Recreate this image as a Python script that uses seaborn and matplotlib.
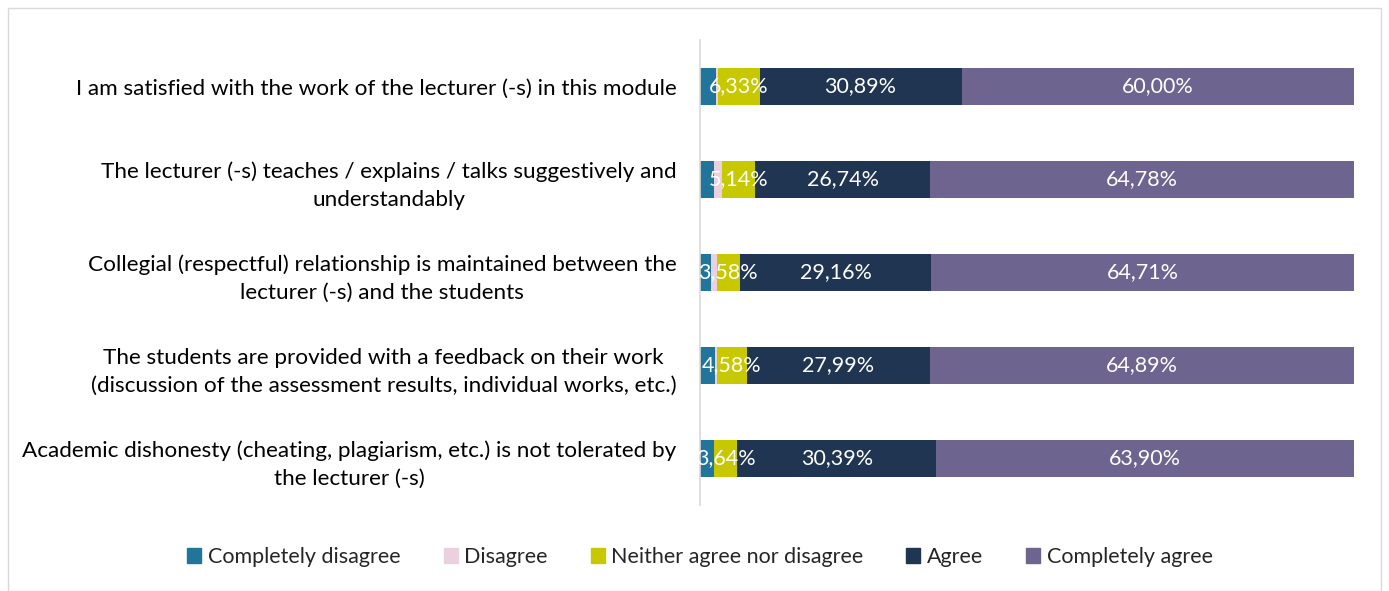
import matplotlib
matplotlib.use("Agg")
import matplotlib.pyplot as plt
import seaborn as sns
import pandas as pd
import numpy as np
from matplotlib.patches import Rectangle

sns.set_theme(style="white")
plt.rcParams['font.family'] = ['Lato', 'DejaVu Sans']

categories = [
    "I am satisfied with the work of the lecturer (-s) in this module",
    "The lecturer (-s) teaches / explains / talks suggestively and\nunderstandably",
    "Collegial (respectful) relationship is maintained between the\nlecturer (-s) and the students",
    "The students are provided with a feedback on their work\n(discussion of the assessment results, individual works, etc.)",
    "Academic dishonesty (cheating, plagiarism, etc.) is not tolerated by\nthe lecturer (-s)",
]
series_names = ["Completely disagree", "Disagree", "Neither agree nor disagree", "Agree", "Completely agree"]
completely_disagree = [2.40, 2.10, 1.75, 2.24, 2.07]
disagree = [0.38, 1.24, 0.80, 0.30, 0.00]
neither = [6.33, 5.14, 3.58, 4.58, 3.64]
agree = [30.89, 26.74, 29.16, 27.99, 30.39]
completely_agree = [60.00, 64.78, 64.71, 64.89, 63.90]
colors = ["#21759B", "#EBD0E0", "#C8C800", "#1F3552", "#6E6490"]
labeled = [False, False, True, True, True]

values = [completely_disagree, disagree, neither, agree, completely_agree]
cum = np.cumsum(np.array(values), axis=0)

fig = plt.figure(figsize=(13.89, 5.91), dpi=100)
ax = fig.add_axes([700/1389, 1-505/591, 654/1389, 465/591])

ids = list(range(len(categories)))
for i in reversed(range(len(series_names))):
    df = pd.DataFrame({"cat": ids, "val": cum[i]})
    sns.barplot(data=df, x="val", y="cat", orient="h", color=colors[i],
                saturation=1, width=0.4, ax=ax, linewidth=0)

for i in range(len(series_names)):
    if not labeled[i]:
        continue
    for j in ids:
        left = cum[i][j] - values[i][j]
        center = left + values[i][j] / 2
        ax.text(center, j, f"{values[i][j]:.2f}%".replace(".", ","),
                ha="center", va="center", color="white", fontsize=15.5)

ax.set_xlim(0, 100)
ax.set_ylim(len(categories) - 0.5, -0.5)
ax.set_xlabel("")
ax.set_ylabel("")
ax.set_xticks([])
ax.set_yticks(ids)
ax.set_yticklabels(categories, fontsize=16.2, multialignment="center", color="#000000",
                   linespacing=1.5)
ax.tick_params(axis="y", length=0, pad=17)
for s in ["top", "right", "bottom"]:
    ax.spines[s].set_visible(False)
ax.spines["left"].set_color("#D9D9D9")
ax.spines["left"].set_linewidth(1.2)

handles = [Rectangle((0, 0), 1, 1, color=c) for c in colors]
fig.legend(handles, series_names, loc="center", bbox_to_anchor=(700/1389, 1-557/591),
           ncol=5, frameon=False, fontsize=15.5, handlelength=0.65, handleheight=0.65,
           handletextpad=0.3, columnspacing=2.0)

fig.patches.append(Rectangle((8/1389, 0.0), 1373/1389, 1-8/591, transform=fig.transFigure,
                             fill=False, edgecolor="#D9D9D9", linewidth=1))

fig.savefig("out.png", dpi=100)
